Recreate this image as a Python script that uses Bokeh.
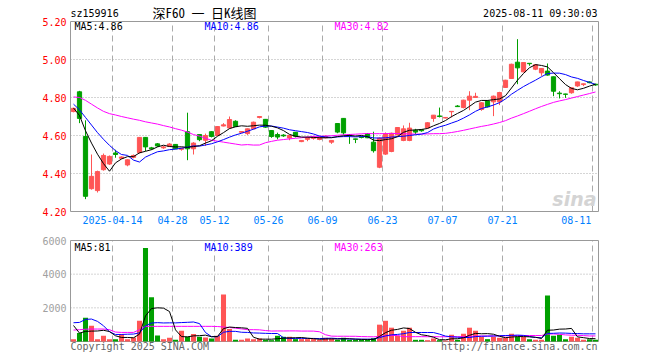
from bokeh.plotting import figure
from bokeh.models import Range1d, FixedTicker, Label, NumeralTickFormatter
from bokeh.layouts import column
from bokeh.embed import file_html
from bokeh.resources import INLINE

# ---------------- data ----------------
tick_pos = [7, 17, 24, 33, 42, 52, 62, 72, 87]
tick_labels = ["2025-04-14", "04-28", "05-12", "05-26", "06-09",
               "06-23", "07-07", "07-21", "08-11"]

opens = [4.726, 4.830, 4.595, 4.320, 4.310, 4.420, 4.450, 4.508, 4.480, 4.445,
         4.485, 4.510, 4.590, 4.535, 4.556, 4.535, 4.542, 4.553, 4.527, 4.620,
         4.530, 4.605, 4.575, 4.620, 4.600, 4.650, 4.640, 4.675, 4.617, 4.610,
         4.635, 4.695, 4.685, 4.626, 4.605, 4.602, 4.587, 4.617, 4.568, 4.580,
         4.585, 4.579, 4.588, 4.565, 4.663, 4.690, 4.605, 4.582, 4.592, 4.609,
         4.565, 4.433, 4.502, 4.516, 4.603, 4.574, 4.574, 4.628, 4.630, 4.640,
         4.690, 4.703, 4.692, 4.725, 4.755, 4.747, 4.786, 4.800, 4.737, 4.781,
         4.777, 4.777, 4.853, 4.900, 4.986, 4.935, 4.980, 4.949, 4.930, 4.939,
         4.909, 4.823, 4.818, 4.825, 4.861, 4.868, 4.882, 4.870]
highs = [4.746, 4.835, 4.680, 4.500, 4.415, 4.505, 4.495, 4.525, 4.490, 4.475,
         4.500, 4.592, 4.592, 4.540, 4.560, 4.545, 4.560, 4.555, 4.535, 4.720,
         4.565, 4.607, 4.610, 4.622, 4.650, 4.665, 4.700, 4.680, 4.623, 4.637,
         4.673, 4.700, 4.687, 4.628, 4.615, 4.607, 4.602, 4.618, 4.575, 4.595,
         4.595, 4.595, 4.600, 4.576, 4.665, 4.692, 4.606, 4.583, 4.595, 4.612,
         4.620, 4.590, 4.616, 4.615, 4.643, 4.653, 4.667, 4.635, 4.632, 4.670,
         4.708, 4.747, 4.696, 4.728, 4.760, 4.788, 4.833, 4.825, 4.775, 4.785,
         4.810, 4.830, 4.893, 4.978, 5.107, 4.986, 4.980, 4.975, 4.955, 4.979,
         4.910, 4.833, 4.820, 4.853, 4.883, 4.873, 4.885, 4.872]
lows = [4.722, 4.665, 4.265, 4.315, 4.300, 4.415, 4.445, 4.483, 4.476, 4.438,
        4.480, 4.505, 4.518, 4.525, 4.540, 4.530, 4.540, 4.530, 4.520, 4.470,
        4.500, 4.570, 4.545, 4.590, 4.598, 4.648, 4.635, 4.645, 4.615, 4.603,
        4.633, 4.690, 4.640, 4.588, 4.580, 4.593, 4.575, 4.590, 4.565, 4.570,
        4.578, 4.575, 4.585, 4.556, 4.612, 4.604, 4.556, 4.560, 4.585, 4.586,
        4.510, 4.428, 4.498, 4.512, 4.600, 4.570, 4.570, 4.607, 4.620, 4.638,
        4.672, 4.695, 4.690, 4.695, 4.750, 4.743, 4.733, 4.798, 4.730, 4.748,
        4.702, 4.760, 4.850, 4.898, 4.870, 4.933, 4.967, 4.944, 4.914, 4.915,
        4.807, 4.795, 4.798, 4.820, 4.856, 4.860, 4.875, 4.862]
closes = [4.743, 4.690, 4.280, 4.385, 4.410, 4.495, 4.490, 4.500, 4.487, 4.472,
          4.495, 4.590, 4.540, 4.530, 4.545, 4.540, 4.555, 4.530, 4.533, 4.530,
          4.560, 4.578, 4.600, 4.595, 4.647, 4.656, 4.684, 4.647, 4.621, 4.635,
          4.670, 4.700, 4.644, 4.595, 4.592, 4.598, 4.600, 4.596, 4.574, 4.588,
          4.592, 4.591, 4.596, 4.574, 4.618, 4.614, 4.600, 4.580, 4.590, 4.588,
          4.520, 4.586, 4.609, 4.612, 4.642, 4.635, 4.639, 4.618, 4.625, 4.667,
          4.707, 4.700, 4.695, 4.727, 4.752, 4.786, 4.807, 4.806, 4.772, 4.751,
          4.807, 4.826, 4.891, 4.975, 4.956, 4.984, 4.978, 4.972, 4.953, 4.918,
          4.833, 4.820, 4.817, 4.851, 4.882, 4.872, 4.878, 4.866]
volumes = [140, 500, 1410, 935, 140, 340, 140, 140, 440, 140,
           240, 1230, 5550, 2630, 360, 140, 220, 100, 640, 280,
           440, 280, 240, 180, 340, 2790, 740, 100, 100, 180,
           140, 180, 100, 80, 340, 280, 280, 140, 140, 140,
           140, 100, 220, 180, 100, 220, 100, 100, 100, 100,
           200, 1000, 1230, 820, 340, 640, 820, 100, 100, 80,
           180, 80, 60, 400, 100, 460, 820, 640, 280, 140,
           280, 220, 220, 460, 280, 280, 140, 100, 100, 2730,
           340, 400, 140, 280, 220, 100, 140, 100]

# moving-average values before enough in-window history exists
ma5_head = [4.745, 4.705, 4.625, 4.56]
ma10_head = [4.765, 4.735, 4.695, 4.655, 4.615, 4.58, 4.548, 4.52, 4.50]
ma30_head = [4.803, 4.80, 4.785, 4.765, 4.745, 4.727, 4.715, 4.708, 4.70, 4.693,
             4.686, 4.68, 4.672, 4.666, 4.66, 4.652, 4.645, 4.636, 4.628, 4.618,
             4.605, 4.597, 4.585, 4.575, 4.57, 4.565, 4.56, 4.555, 4.55]
vma5_head = [950, 500, 600, 617]
vma10_head = [1114, 1134, 1313, 1333, 1194, 935, 577, 418, 418]
vma30_head = [680, 700, 730, 740, 740, 740, 700, 560, 540, 540,
              540, 700, 900, 900, 900, 900, 900, 900, 900, 900,
              900, 900, 900, 900, 890, 860, 830, 790, 750]

price_ticks = [4.2, 4.4, 4.6, 4.8, 5.0, 5.2]
vol_ticks = [2000, 4000, 6000]

header_left = "sz159916"
header_title = "深F60 一 日K线图"
header_right = "2025-08-11 09:30:03"
price_ma_labels = ["MA5:4.86", "MA10:4.86", "MA30:4.82"]
vol_ma_labels = ["MA5:81", "MA10:389", "MA30:263"]
footer_left = "Copyright 2025 SINA.COM"
footer_right = "http://finance.sina.com.cn"


def moving_avg(head, vals, n):
    out = list(head)
    for i in range(n - 1, len(vals)):
        out.append(sum(vals[i - n + 1:i + 1]) / n)
    return out


N = len(closes)
xs = list(range(N))
RED, GREEN = "#ff5555", "#00a000"
colors = [RED if c >= o else GREEN for o, c in zip(opens, closes)]
body_top = [max(o, c) for o, c in zip(opens, closes)]
body_bot = [min(o, c) for o, c in zip(opens, closes)]

ma5 = moving_avg(ma5_head, closes, 5)
ma10 = moving_avg(ma10_head, closes, 10)
ma30 = moving_avg(ma30_head, closes, 30)
vma5 = moving_avg(vma5_head, volumes, 5)
vma10 = moving_avg(vma10_head, volumes, 10)
vma30 = moving_avg(vma30_head, volumes, 30)

MONO = "DejaVu Sans Mono"
CJK = "Noto Sans Mono CJK SC, Noto Sans CJK SC"
GRID = "#aaaaaa"
BORDER = "#999999"
grid_x = [t - 0.5 for t in tick_pos]
# the last date label sits left of its grid line (kept inside the frame)
label_x = grid_x[:-1] + [grid_x[-1] - 2.7]

# The plotting area is 88 slots of 6 px; the frames are widened by 1 px on each
# side (and extended over the header / footer rows) so that texts there are drawn.
PX = 1.0 / 6.0
X_RANGE = Range1d(-0.5 - PX, N - 0.5 + PX)
P_LO, P_HI = price_ticks[0], price_ticks[-1]
P_PX = (P_HI - P_LO) / 190.0
V_HI = vol_ticks[-1]
V_PX = V_HI / 101.0


def base_style(p):
    p.title.visible = False
    p.outline_line_color = None
    p.background_fill_color = "white"
    p.border_fill_color = "white"
    p.grid.visible = False
    for ax in p.yaxis:
        ax.axis_line_color = None
        ax.major_tick_line_color = None
        ax.minor_tick_line_color = None
        ax.major_tick_out = 0
        ax.major_tick_in = 0
        ax.major_label_standoff = 3
        ax.major_label_text_font = MONO
        ax.major_label_text_font_size = "10px"


def panel_grid(p, lo, hi, hlines):
    p.segment(x0=grid_x, y0=[lo] * len(grid_x), x1=grid_x, y1=[hi] * len(grid_x),
              line_color=GRID, line_dash="6 4", line_width=1)
    p.segment(x0=[-0.5] * len(hlines), y0=hlines, x1=[N - 0.5] * len(hlines),
              y1=hlines, line_color=GRID, line_dash="1 2", line_width=1)
    p.quad(left=[-0.5], right=[N - 0.5], bottom=[lo], top=[hi],
           fill_color=None, line_color=BORDER, line_width=1)


def lbl(p, x, y, text, color="black", align="left", size="10px", font=MONO,
        style_="normal"):
    p.add_layout(Label(x=x, y=y, x_units="screen", y_units="screen", text=text,
                       text_color=color, text_align=align, text_baseline="middle",
                       text_font=font, text_font_size=size, text_font_style=style_))


# ---------------- price panel (with the header row) ----------------
p1 = figure(width=660, height=230, x_range=X_RANGE,
            y_range=Range1d(P_LO - P_PX, P_HI + 21 * P_PX), output_backend="svg",
            toolbar_location=None, min_border_left=69, min_border_right=61,
            min_border_top=0, min_border_bottom=18)
base_style(p1)
p1.yaxis.ticker = FixedTicker(ticks=price_ticks)
p1.yaxis.formatter = NumeralTickFormatter(format="0.00")
p1.yaxis.major_label_text_color = "#ff0000"
p1.xaxis.ticker = FixedTicker(ticks=label_x)
p1.xaxis.major_label_overrides = {g: t for g, t in zip(label_x, tick_labels)}
p1.xaxis.axis_line_color = None
p1.xaxis.major_tick_line_color = None
p1.xaxis.minor_tick_line_color = None
p1.xaxis.major_tick_out = 0
p1.xaxis.major_tick_in = 0
p1.xaxis.major_label_standoff = 3
p1.xaxis.major_label_text_font = MONO
p1.xaxis.major_label_text_font_size = "10px"
p1.xaxis.major_label_text_color = "#0080ff"

panel_grid(p1, P_LO, P_HI, price_ticks[1:-1])
p1.segment(x0=xs, y0=lows, x1=xs, y1=highs, color=colors, line_width=1)
p1.vbar(x=xs, top=body_top, bottom=body_bot, width=0.7,
        fill_color=colors, line_color=colors, line_width=1)
p1.line(xs, ma30, line_color="#ff00ff", line_width=1)
p1.line(xs, ma10, line_color="#0000ff", line_width=1)
p1.line(xs, ma5, line_color="#000000", line_width=1)

# frame-relative screen positions (frame: x 69..599, y 0..212 from the top)
lbl(p1, 5, 186, price_ma_labels[0], "black")
lbl(p1, 135, 186, price_ma_labels[1], "#0000ff")
lbl(p1, 265, 186, price_ma_labels[2], "#ff00ff")
lbl(p1, 1, 199, header_left, "black")
lbl(p1, 135, 200, header_title, "black", align="center", size="13px", font=CJK)
lbl(p1, 528, 199, header_right, "black", align="right")
lbl(p1, 527, 14, "sina", "#d4d4d4", align="right", size="19px",
    font="DejaVu Sans", style_="bold italic")

# ---------------- volume panel (with the footer row) ----------------
p2 = figure(width=660, height=130, x_range=X_RANGE,
            y_range=Range1d(-19 * V_PX, V_HI + V_PX), output_backend="svg",
            toolbar_location=None, min_border_left=69, min_border_right=61,
            min_border_top=9, min_border_bottom=0)
base_style(p2)
p2.xaxis.visible = False
p2.yaxis.ticker = FixedTicker(ticks=vol_ticks)
p2.yaxis.major_label_text_color = "#a0a0a0"

panel_grid(p2, 0, V_HI, vol_ticks[:-1])
p2.vbar(x=xs, top=volumes, bottom=0, width=0.84, fill_color=colors, line_color=None)
p2.line(xs, vma30, line_color="#ff00ff", line_width=1)
p2.line(xs, vma10, line_color="#0000ff", line_width=1)
p2.line(xs, vma5, line_color="#000000", line_width=1)

# frame: x 69..599, y 239..360 of the page
lbl(p2, 5, 113.5, vol_ma_labels[0], "black")
lbl(p2, 135, 113.5, vol_ma_labels[1], "#0000ff")
lbl(p2, 265, 113.5, vol_ma_labels[2], "#ff00ff")
lbl(p2, 1, 14, footer_left, "#666666")
lbl(p2, 528, 14, footer_right, "#666666", align="right")

layout = column(p1, p2, spacing=0)
open("out.html", "w").write(file_html(layout, INLINE))
